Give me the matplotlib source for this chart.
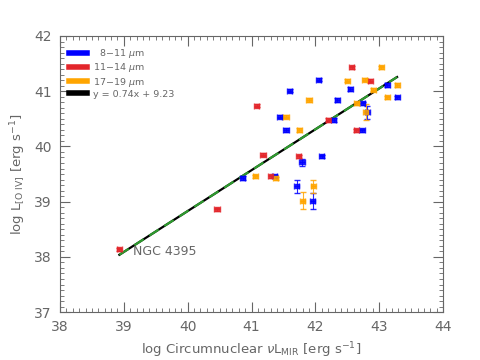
import numpy as np
import matplotlib
matplotlib.use("Agg")
import matplotlib.pyplot as plt
from matplotlib.ticker import MultipleLocator

# 8-11 micron
blueX = [41.60, 41.44, 41.54, 42.05, 42.55, 43.13, 42.34, 43.28, 42.74, 42.81,
         42.29, 42.73, 40.86, 41.36, 41.79, 42.10, 41.71, 41.96]
blueY = [41.01, 40.54, 40.30, 41.21, 41.04, 41.11, 40.84, 40.89, 40.78, 40.62,
         40.48, 40.29, 39.43, 39.46, 39.71, 39.82, 39.28, 39.01]
blueErr = [0.03, 0.03, 0.03, 0.03, 0.03, 0.03, 0.03, 0.03, 0.03, 0.12,
           0.03, 0.03, 0.03, 0.03, 0.07, 0.03, 0.12, 0.14]

# 11-14 micron
redX = [38.93, 40.46, 41.08, 41.18, 41.30, 42.57, 42.86, 42.20, 42.64, 41.74]
redY = [38.14, 38.86, 40.74, 39.85, 39.46, 41.43, 41.19, 40.48, 40.29, 39.82]
redErr = [0.03] * len(redX)

# 17-19 micron
orangeX = [41.54, 41.75, 43.03, 42.50, 42.77, 42.91, 43.28, 41.90, 43.13, 42.65,
           42.79, 41.06, 41.38, 41.97, 41.80]
orangeY = [40.54, 40.30, 41.43, 41.19, 41.21, 41.03, 41.11, 40.84, 40.89, 40.78,
           40.62, 39.46, 39.42, 39.28, 39.02]
orangeErr = [0.03, 0.03, 0.03, 0.03, 0.03, 0.03, 0.03, 0.03, 0.03, 0.03,
             0.15, 0.03, 0.03, 0.12, 0.15]

slope = 0.74
intercept = 9.23

grey = "#666666"
plt.rcParams['font.family'] = ['DejaVu Sans']

fig = plt.figure(figsize=(4.8, 3.6), dpi=100)
ax = fig.add_axes([0.125, 0.133, 0.798, 0.767])

#fit line
xFit = np.array([min(redX), max(blueX)])
ax.plot(xFit, slope * xFit + intercept, color="black", lw=1.6, zorder=2)
ax.plot(xFit, slope * xFit + intercept, color="#2e9a2e", lw=1.6,
        dashes=(5, 3), zorder=3)

series = [(blueX, blueY, blueErr, "blue"),
          (redX, redY, redErr, "#e3262b"),
          (orangeX, orangeY, orangeErr, "orange")]
for xs, ys, errs, col in series:
    ax.errorbar(xs, ys, yerr=errs, xerr=0.04, fmt="s", ms=3.5, color=col,
                ecolor=col, elinewidth=0.8, capsize=2, alpha=0.85, zorder=4)

ax.text(39.15, 38.1, "NGC 4395", color=grey, fontsize=9, va="center")

#legend
labels = ["  8$-$11 $\\mu$m", "11$-$14 $\\mu$m", "17$-$19 $\\mu$m",
          "y = %.2fx + %.2f" % (slope, intercept)]
cols = ["blue", "#e3262b", "orange", "black"]
handles = [plt.Line2D([], [], color=c, lw=4) for c in cols]
ax.legend(handles, labels, loc="upper left", bbox_to_anchor=(0.0, 0.99),
          frameon=False, fontsize=6.8, handlelength=2.0, labelspacing=0.12,
          handletextpad=0.6, labelcolor=grey)

ax.set_xlim(38, 44)
ax.set_ylim(37, 42)
ax.xaxis.set_major_locator(MultipleLocator(1))
ax.yaxis.set_major_locator(MultipleLocator(1))
ax.xaxis.set_minor_locator(MultipleLocator(0.1))
ax.yaxis.set_minor_locator(MultipleLocator(0.1))
ax.tick_params(which="both", direction="in", top=True, right=True,
               color=grey, labelcolor=grey, labelsize=10)
ax.tick_params(which="major", length=7, pad=6)
ax.tick_params(which="minor", length=3)
for s in ax.spines.values():
    s.set_color(grey)

ax.set_xlabel("log Circumnuclear $\\nu$L$_{\\rm MIR}$ [erg s$^{-1}$]",
              color=grey, fontsize=9.5)
ax.set_ylabel("log L$_{\\rm [O\\ IV]}$ [erg s$^{-1}$]", color=grey,
              fontsize=9.5)

fig.savefig("out.png", dpi=100)
